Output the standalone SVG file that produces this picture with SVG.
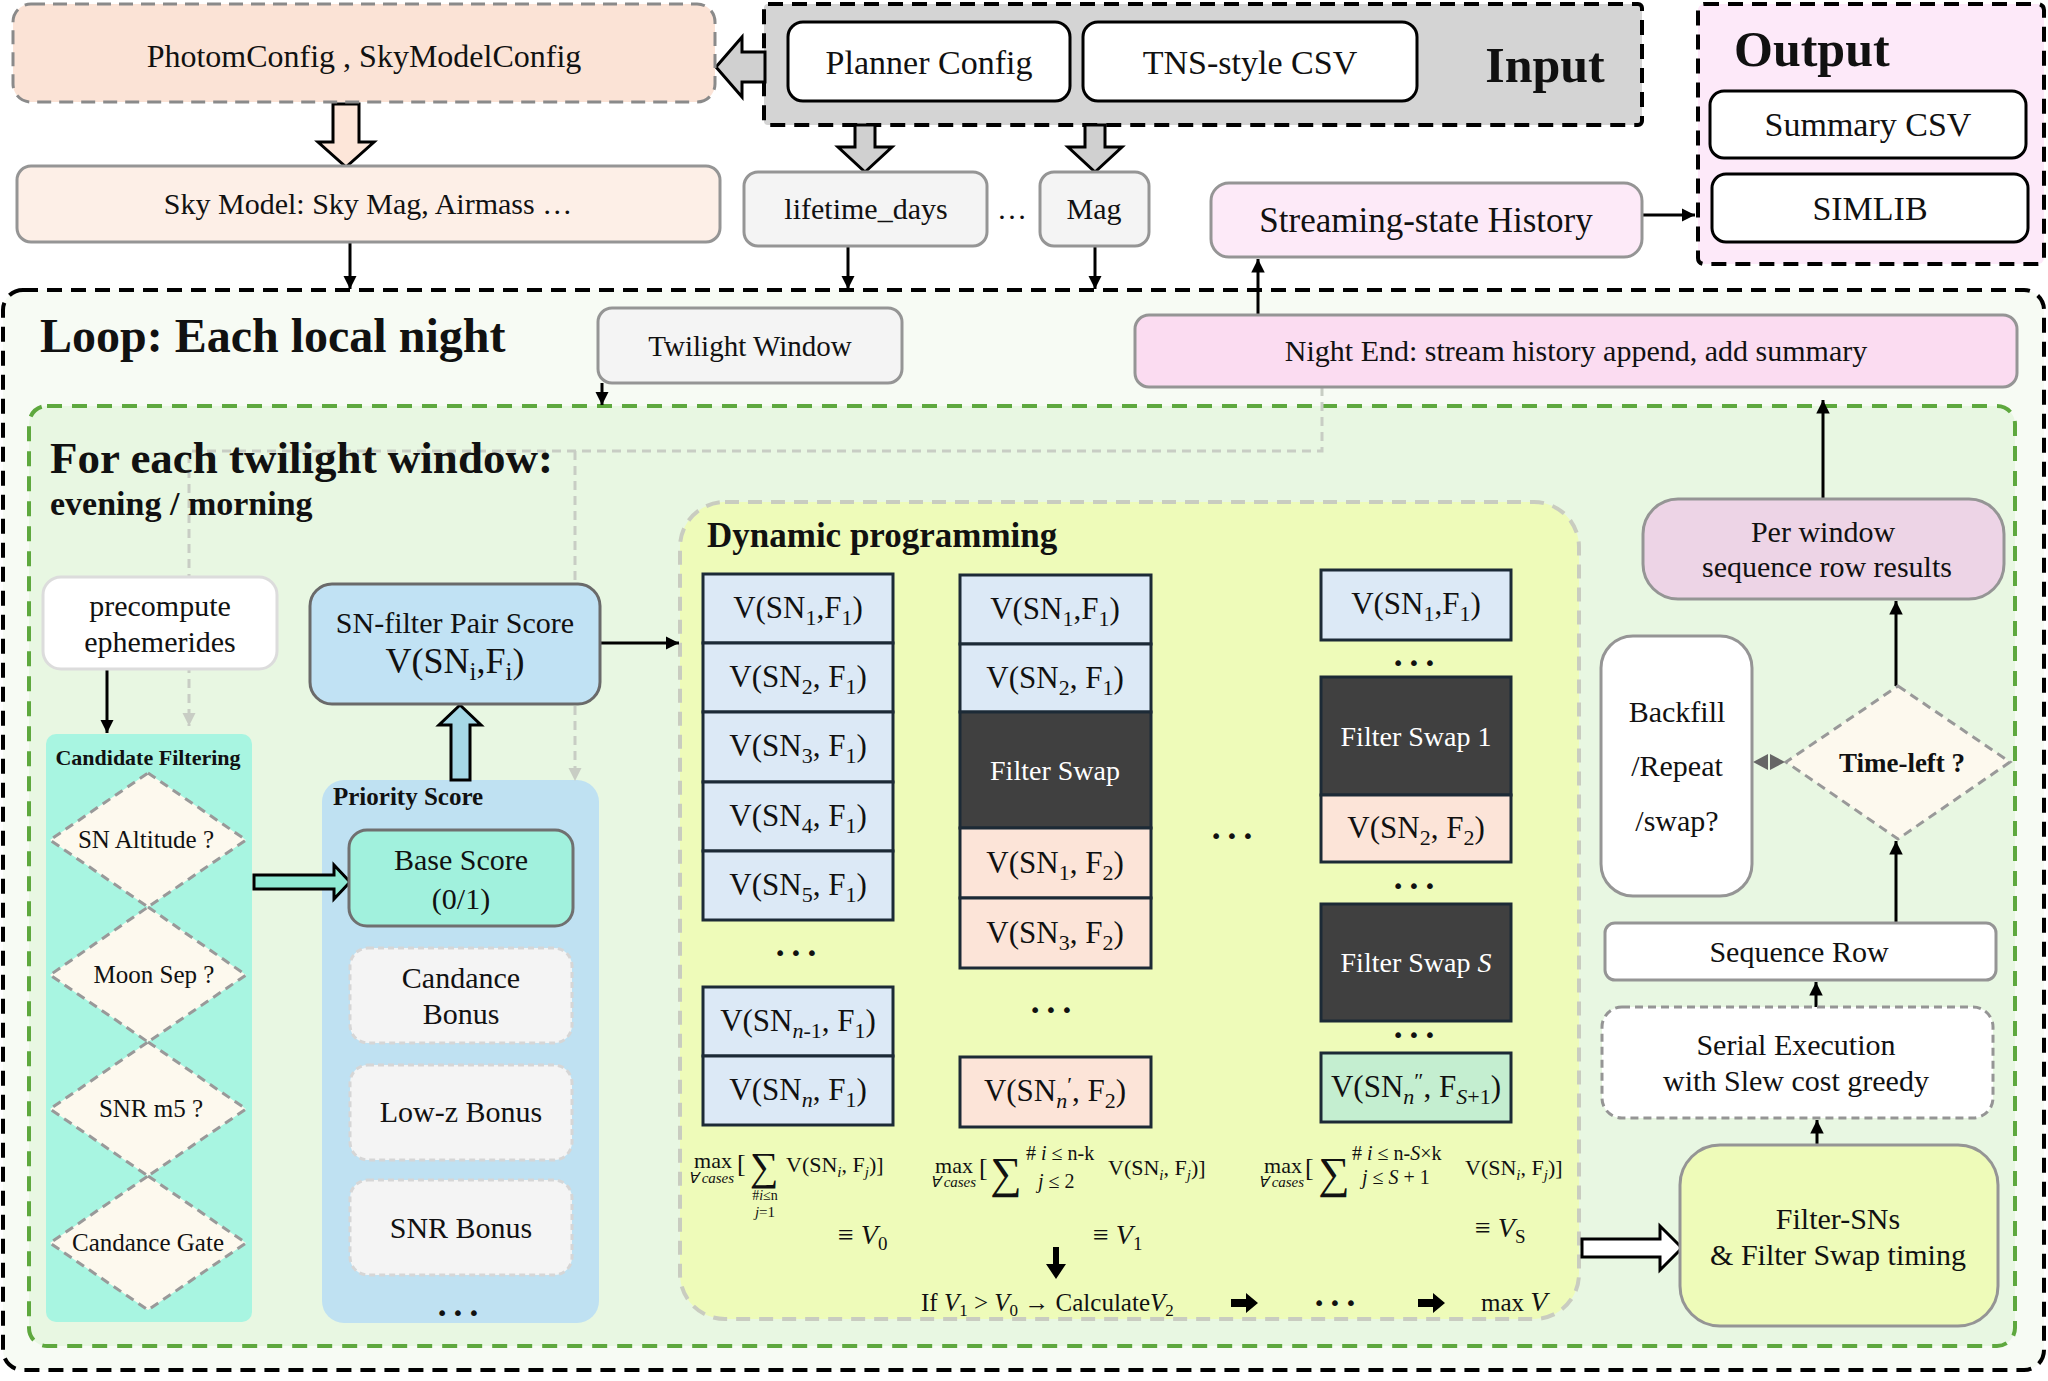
<svg xmlns="http://www.w3.org/2000/svg" width="2048" height="1381" viewBox="0 0 2048 1381">
<defs>
<style>
text{font-family:"Liberation Serif","Times New Roman",serif;fill:#111}
.m{text-anchor:middle}
.b{font-weight:bold}
.i{font-style:italic}
.f30{font-size:30px}
.f34{font-size:34px}
.cell{font-size:31px;text-anchor:middle}
.s{font-size:22px}
.sw{font-size:28px;text-anchor:middle;fill:#fff}
.fm{font-size:22px}
.ln{stroke:#000;stroke-width:3;fill:none}
.blue{fill:#dce9f6;stroke:#1c2a36;stroke-width:3}
.peach{fill:#fce4d8;stroke:#1c2a36;stroke-width:3}
.dark{fill:#404040;stroke:#1c2a36;stroke-width:3}
.green{fill:#c4eed0;stroke:#1c2a36;stroke-width:3}
.gbox{stroke:#959595;stroke-width:3}
.dia{fill:#fdf9ee;stroke:#999;stroke-width:3;stroke-dasharray:9 6}
.dots{font-family:"DejaVu Sans",sans-serif;font-size:20px;text-anchor:middle;letter-spacing:4px}
</style>
<marker id="ah" viewBox="0 0 10 10" refX="10" refY="5" markerWidth="4.5" markerHeight="4.5" orient="auto"><path d="M0,0 L10,5 L0,10 z" fill="#000"/></marker>
<marker id="ahg" viewBox="0 0 10 10" refX="10" refY="5" markerWidth="4.5" markerHeight="4.5" orient="auto"><path d="M0,0 L10,5 L0,10 z" fill="#c8cdc4"/></marker>
</defs>
<rect width="2048" height="1381" fill="#ffffff"/>

<!-- containers -->
<g id="loop">
<rect x="3" y="290" width="2041" height="1080" rx="20" fill="#f7fbf4" stroke="#000" stroke-width="4" stroke-dasharray="15 9"/>
<text x="40" y="352" class="b" font-size="48">Loop: Each local night</text>
</g>
<g id="twilight-loop">
<rect x="29" y="406" width="1986" height="940" rx="18" fill="#e8f7e2" stroke="#5ea83e" stroke-width="4" stroke-dasharray="15 10"/>
</g>
<g id="input">
<rect x="764" y="4" width="878" height="121" rx="4" fill="#d4d4d4" stroke="#000" stroke-width="4" stroke-dasharray="15 9"/>
<text x="1545" y="82" class="m b" font-size="50">Input</text>
</g>
<g id="output">
<rect x="1698" y="4" width="346" height="260" rx="6" fill="#fde9f9" stroke="#000" stroke-width="4" stroke-dasharray="15 9"/>
<text x="1734" y="66" class="b" font-size="50">Output</text>
</g>
<g id="dp">
<rect x="680" y="502" width="899" height="817" rx="45" fill="#eefbb9" stroke="#c9ccc0" stroke-width="4" stroke-dasharray="14 9"/>
<text x="707" y="547" class="b" font-size="35">Dynamic programming</text>
</g>
<g id="candidate-filtering">
<rect x="46" y="734" width="206" height="588" rx="10" fill="#a8f5e1"/>
<text x="148" y="765" class="m b" font-size="22">Candidate Filtering</text>
</g>
<g id="priority-score">
<rect x="322" y="780" width="277" height="543" rx="22" fill="#bfe1f2"/>
<text x="333" y="805" class="b" font-size="25">Priority Score</text>
</g>

<!-- connectors -->
<g id="connectors">
<path d="M1322,387 V451 H189 V726" fill="none" stroke="#c8cdc4" stroke-width="3" stroke-dasharray="9 6" marker-end="url(#ahg)"/>
<path d="M575,451 V781" fill="none" stroke="#c8cdc4" stroke-width="3" stroke-dasharray="9 6" marker-end="url(#ahg)"/>
<polygon points="765,52 742,52 742,37 716,67 742,97 742,82 765,82" fill="#d0d0d0" stroke="#000" stroke-width="3"/>
<polygon points="333,104 359,104 359,142 374,142 346,167 318,142 333,142" fill="#fde6d9" stroke="#000" stroke-width="3"/>
<polygon points="855,125 875,125 875,147 892,147 865,172 838,147 855,147" fill="#d0d0d0" stroke="#000" stroke-width="3"/>
<polygon points="1085,125 1105,125 1105,147 1122,147 1095,172 1068,147 1085,147" fill="#d0d0d0" stroke="#000" stroke-width="3"/>
<polygon points="254,875 334,875 334,865 350,882 334,899 334,889 254,889" fill="#8fe9d3" stroke="#000" stroke-width="3"/>
<polygon points="451,780 451,725 439,725 460,705 481,725 470,725 470,780" fill="#a6d8e6" stroke="#000" stroke-width="3"/>
<polygon points="1582,1239 1660,1239 1660,1226 1682,1248 1660,1270 1660,1257 1582,1257" fill="#fff" stroke="#000" stroke-width="3"/>
<line x1="350" y1="242" x2="350" y2="289" class="ln" marker-end="url(#ah)"/>
<line x1="848" y1="246" x2="848" y2="289" class="ln" marker-end="url(#ah)"/>
<line x1="1095" y1="246" x2="1095" y2="289" class="ln" marker-end="url(#ah)"/>
<line x1="1258" y1="315" x2="1258" y2="259" class="ln" marker-end="url(#ah)"/>
<line x1="1642" y1="215" x2="1695" y2="215" class="ln" marker-end="url(#ah)"/>
<line x1="602" y1="383" x2="602" y2="405" class="ln" marker-end="url(#ah)"/>
<line x1="1823" y1="499" x2="1823" y2="400" class="ln" marker-end="url(#ah)"/>
<line x1="1896" y1="686" x2="1896" y2="601" class="ln" marker-end="url(#ah)"/>
<line x1="1896" y1="923" x2="1896" y2="841" class="ln" marker-end="url(#ah)"/>
<line x1="1816" y1="1007" x2="1816" y2="982" class="ln" marker-end="url(#ah)"/>
<line x1="1817" y1="1145" x2="1817" y2="1120" class="ln" marker-end="url(#ah)"/>
<line x1="600" y1="643" x2="679" y2="643" class="ln" marker-end="url(#ah)"/>
<line x1="107" y1="669" x2="107" y2="733" class="ln" marker-end="url(#ah)"/>
<polygon points="1753,762 1768,754 1768,770" fill="#666"/>
<polygon points="1785,762 1770,754 1770,770" fill="#666"/>
</g>

<!-- top nodes -->
<g id="photom-config">
<rect x="13" y="4" width="702" height="98" rx="18" fill="#fbe3d6" stroke="#8a8a8a" stroke-width="3" stroke-dasharray="14 8"/>
<text x="364" y="67" class="m" font-size="32">PhotomConfig , SkyModelConfig</text>
</g>
<g id="planner-config">
<rect x="788" y="22" width="282" height="79" rx="15" fill="#fff" stroke="#000" stroke-width="3"/>
<text x="929" y="74" class="m f34">Planner Config</text>
</g>
<g id="tns-csv">
<rect x="1083" y="22" width="334" height="79" rx="15" fill="#fff" stroke="#000" stroke-width="3"/>
<text x="1250" y="74" class="m f34">TNS-style CSV</text>
</g>
<g id="summary-csv">
<rect x="1710" y="91" width="316" height="67" rx="14" fill="#fff" stroke="#000" stroke-width="3"/>
<text x="1868" y="136" class="m f34">Summary CSV</text>
</g>
<g id="simlib">
<rect x="1712" y="174" width="316" height="68" rx="14" fill="#fff" stroke="#000" stroke-width="3"/>
<text x="1870" y="220" class="m f34">SIMLIB</text>
</g>
<g id="sky-model">
<rect x="17" y="166" width="703" height="76" rx="14" fill="#fdefe7" class="gbox"/>
<text x="368" y="214" class="m f30">Sky Model: Sky Mag, Airmass …</text>
</g>
<g id="lifetime-days">
<rect x="744" y="172" width="243" height="74" rx="14" fill="#f4f4f4" class="gbox"/>
<text x="866" y="219" class="m f30">lifetime_days</text>
</g>
<text x="1012" y="219" class="m f30">…</text>
<g id="mag">
<rect x="1040" y="172" width="109" height="74" rx="14" fill="#f4f4f4" class="gbox"/>
<text x="1094" y="219" class="m f30">Mag</text>
</g>
<g id="streaming-history">
<rect x="1211" y="183" width="431" height="74" rx="18" fill="#fdeaf8" class="gbox"/>
<text x="1426" y="232" class="m" font-size="35">Streaming-state History</text>
</g>
<g id="twilight-window">
<rect x="598" y="308" width="304" height="75" rx="14" fill="#f4f4f4" class="gbox"/>
<text x="750" y="356" class="m" font-size="29">Twilight Window</text>
</g>
<g id="night-end">
<rect x="1135" y="315" width="882" height="72" rx="14" fill="#fbdcf1" class="gbox"/>
<text x="1576" y="361" class="m f30">Night End: stream history append, add summary</text>
</g>

<g id="twilight-title">
<text x="50" y="473" class="b" font-size="45">For each twilight window:</text>
<text x="50" y="515" class="b" font-size="34">evening / morning</text>
</g>

<!-- left column -->
<g id="precompute">
<rect x="43" y="577" width="234" height="92" rx="18" fill="#fff" stroke="#dcdcdc" stroke-width="3"/>
<text x="160" y="616" class="m f30">precompute</text>
<text x="160" y="652" class="m f30">ephemerides</text>
</g>
<g id="sn-altitude"><polygon points="148,773 246,840 148,907 50,840" class="dia"/><text x="146" y="848" class="m" font-size="25">SN Altitude ?</text></g>
<g id="moon-sep"><polygon points="148,907 246,975 148,1042 50,975" class="dia"/><text x="154" y="983" class="m" font-size="25">Moon Sep ?</text></g>
<g id="snr-m5"><polygon points="148,1042 246,1109 148,1176 50,1109" class="dia"/><text x="151" y="1117" class="m" font-size="25">SNR m5 ?</text></g>
<g id="candance-gate"><polygon points="148,1176 246,1243 148,1310 50,1243" class="dia"/><text x="148" y="1251" class="m" font-size="25">Candance Gate</text></g>

<g id="sn-filter-pair-score">
<rect x="310" y="584" width="290" height="120" rx="22" fill="#c1e2f4" stroke="#6a6a6a" stroke-width="3"/>
<text x="455" y="633" class="m f30">SN-filter Pair Score</text>
<text x="455" y="673" class="m" font-size="36">V(SN<tspan font-size="25" dy="7">i</tspan><tspan dy="-7">,F</tspan><tspan font-size="25" dy="7">i</tspan><tspan dy="-7">)</tspan></text>
</g>
<g id="base-score">
<rect x="349" y="830" width="224" height="96" rx="18" fill="#a1f1dd" stroke="#707070" stroke-width="3"/>
<text x="461" y="870" class="m f30">Base Score</text>
<text x="461" y="909" class="m f30">(0/1)</text>
</g>
<g id="candance-bonus">
<rect x="350" y="948" width="222" height="95" rx="18" fill="#f4f4f4" stroke="#d6d6d6" stroke-width="3" stroke-dasharray="6 4"/>
<text x="461" y="988" class="m f30">Candance</text>
<text x="461" y="1024" class="m f30">Bonus</text>
</g>
<g id="lowz-bonus">
<rect x="350" y="1065" width="222" height="95" rx="18" fill="#f4f4f4" stroke="#d6d6d6" stroke-width="3" stroke-dasharray="6 4"/>
<text x="461" y="1122" class="m f30">Low-z Bonus</text>
</g>
<g id="snr-bonus">
<rect x="350" y="1180" width="222" height="95" rx="18" fill="#f4f4f4" stroke="#d6d6d6" stroke-width="3" stroke-dasharray="6 4"/>
<text x="461" y="1238" class="m f30">SNR Bonus</text>
</g>
<text x="460" y="1320" class="dots">•••</text>

<!-- DP column 1 -->
<g id="dp-col1">
<rect x="703" y="574" width="190" height="69" class="blue"/>
<rect x="703" y="643" width="190" height="69" class="blue"/>
<rect x="703" y="712" width="190" height="70" class="blue"/>
<rect x="703" y="782" width="190" height="69" class="blue"/>
<rect x="703" y="851" width="190" height="69" class="blue"/>
<text x="798" y="618" class="cell">V(SN<tspan class="s" dy="7">1</tspan><tspan dy="-7">,F</tspan><tspan class="s" dy="7">1</tspan><tspan dy="-7">)</tspan></text>
<text x="798" y="687" class="cell">V(SN<tspan class="s" dy="7">2</tspan><tspan dy="-7">, F</tspan><tspan class="s" dy="7">1</tspan><tspan dy="-7">)</tspan></text>
<text x="798" y="756" class="cell">V(SN<tspan class="s" dy="7">3</tspan><tspan dy="-7">, F</tspan><tspan class="s" dy="7">1</tspan><tspan dy="-7">)</tspan></text>
<text x="798" y="826" class="cell">V(SN<tspan class="s" dy="7">4</tspan><tspan dy="-7">, F</tspan><tspan class="s" dy="7">1</tspan><tspan dy="-7">)</tspan></text>
<text x="798" y="895" class="cell">V(SN<tspan class="s" dy="7">5</tspan><tspan dy="-7">, F</tspan><tspan class="s" dy="7">1</tspan><tspan dy="-7">)</tspan></text>
<text x="798" y="960" class="dots">•••</text>
<rect x="703" y="987" width="190" height="69" class="blue"/>
<rect x="703" y="1056" width="190" height="69" class="blue"/>
<text x="798" y="1031" class="cell">V(SN<tspan class="s i" dy="7">n</tspan><tspan class="s" dy="0">-1</tspan><tspan dy="-7">, F</tspan><tspan class="s" dy="7">1</tspan><tspan dy="-7">)</tspan></text>
<text x="798" y="1100" class="cell">V(SN<tspan class="s i" dy="7">n</tspan><tspan dy="-7">, F</tspan><tspan class="s" dy="7">1</tspan><tspan dy="-7">)</tspan></text>
</g>

<!-- DP column 2 -->
<g id="dp-col2">
<rect x="960" y="575" width="191" height="69" class="blue"/>
<rect x="960" y="644" width="191" height="68" class="blue"/>
<rect x="960" y="712" width="191" height="116" class="dark"/>
<rect x="960" y="828" width="191" height="70" class="peach"/>
<rect x="960" y="898" width="191" height="70" class="peach"/>
<text x="1055" y="619" class="cell">V(SN<tspan class="s" dy="7">1</tspan><tspan dy="-7">,F</tspan><tspan class="s" dy="7">1</tspan><tspan dy="-7">)</tspan></text>
<text x="1055" y="688" class="cell">V(SN<tspan class="s" dy="7">2</tspan><tspan dy="-7">, F</tspan><tspan class="s" dy="7">1</tspan><tspan dy="-7">)</tspan></text>
<text x="1055" y="780" class="sw">Filter Swap</text>
<text x="1055" y="873" class="cell">V(SN<tspan class="s" dy="7">1</tspan><tspan dy="-7">, F</tspan><tspan class="s" dy="7">2</tspan><tspan dy="-7">)</tspan></text>
<text x="1055" y="943" class="cell">V(SN<tspan class="s" dy="7">3</tspan><tspan dy="-7">, F</tspan><tspan class="s" dy="7">2</tspan><tspan dy="-7">)</tspan></text>
<text x="1053" y="1017" class="dots">•••</text>
<rect x="960" y="1057" width="191" height="70" class="peach"/>
<text x="1055" y="1101" class="cell">V(SN<tspan class="s i" dy="7">n</tspan><tspan class="s" dy="-16">′</tspan><tspan dy="9">, F</tspan><tspan class="s" dy="7">2</tspan><tspan dy="-7">)</tspan></text>
</g>

<text x="1234" y="843" class="dots">•••</text>

<!-- DP column 3 -->
<g id="dp-col3">
<rect x="1321" y="570" width="190" height="70" class="blue"/>
<text x="1416" y="614" class="cell">V(SN<tspan class="s" dy="7">1</tspan><tspan dy="-7">,F</tspan><tspan class="s" dy="7">1</tspan><tspan dy="-7">)</tspan></text>
<text x="1416" y="670" class="dots">•••</text>
<rect x="1321" y="677" width="190" height="118" class="dark"/>
<text x="1416" y="746" class="sw">Filter Swap 1</text>
<rect x="1321" y="795" width="190" height="67" class="peach"/>
<text x="1416" y="838" class="cell">V(SN<tspan class="s" dy="7">2</tspan><tspan dy="-7">, F</tspan><tspan class="s" dy="7">2</tspan><tspan dy="-7">)</tspan></text>
<text x="1416" y="893" class="dots">•••</text>
<rect x="1321" y="904" width="190" height="117" class="dark"/>
<text x="1416" y="972" class="sw">Filter Swap <tspan class="i">S</tspan></text>
<text x="1416" y="1042" class="dots">•••</text>
<rect x="1321" y="1053" width="190" height="69" class="green"/>
<text x="1416" y="1097" class="cell" font-size="29">V(SN<tspan class="s i" dy="7">n</tspan><tspan class="s" dy="-16">″</tspan><tspan dy="9">, F</tspan><tspan class="s i" dy="7">S</tspan><tspan class="s">+1</tspan><tspan dy="-7">)</tspan></text>
</g>

<!-- DP formulas -->
<g id="dp-formulas">
<text x="713" y="1168" class="m fm">max</text>
<text x="711" y="1183" class="m i" font-size="15">∀ cases</text>
<text x="737" y="1172" font-size="26">[</text>
<text x="764" y="1180" class="m" font-size="40">∑</text>
<text x="786" y="1172" class="fm">V(SN<tspan font-size="15" class="i" dy="5">i</tspan><tspan dy="-5">, F</tspan><tspan font-size="15" class="i" dy="5">j</tspan><tspan dy="-5">)]</tspan></text>
<text x="765" y="1200" class="m" font-size="14">#<tspan class="i">i</tspan>≤n</text>
<text x="765" y="1217" class="m i" font-size="15">j<tspan font-style="normal">=1</tspan></text>
<text x="838" y="1244" font-size="28">≡ <tspan class="i">V</tspan><tspan font-size="19" dy="6">0</tspan></text>

<text x="954" y="1173" class="m fm">max</text>
<text x="953" y="1187" class="m i" font-size="15">∀ cases</text>
<text x="979" y="1176" font-size="26">[</text>
<text x="1006" y="1188" class="m" font-size="44">∑</text>
<text x="1026" y="1160" font-size="20"># <tspan class="i">i</tspan> ≤ n-k</text>
<text x="1038" y="1188" font-size="20"><tspan class="i">j</tspan> ≤ 2</text>
<text x="1108" y="1175" class="fm">V(SN<tspan font-size="15" class="i" dy="5">i</tspan><tspan dy="-5">, F</tspan><tspan font-size="15" class="i" dy="5">j</tspan><tspan dy="-5">)]</tspan></text>
<text x="1093" y="1244" font-size="28">≡ <tspan class="i">V</tspan><tspan font-size="19" dy="6">1</tspan></text>

<text x="1283" y="1173" class="m fm">max</text>
<text x="1281" y="1187" class="m i" font-size="15">∀ cases</text>
<text x="1305" y="1176" font-size="26">[</text>
<text x="1334" y="1188" class="m" font-size="44">∑</text>
<text x="1352" y="1160" font-size="20"># <tspan class="i">i</tspan> ≤ n-<tspan class="i">S</tspan>×k</text>
<text x="1362" y="1184" font-size="20"><tspan class="i">j</tspan> ≤ <tspan class="i">S</tspan> + 1</text>
<text x="1465" y="1175" class="fm">V(SN<tspan font-size="15" class="i" dy="5">i</tspan><tspan dy="-5">, F</tspan><tspan font-size="15" class="i" dy="5">j</tspan><tspan dy="-5">)]</tspan></text>
<text x="1475" y="1237" font-size="28">≡ <tspan class="i">V</tspan><tspan font-size="19" dy="6">S</tspan></text>

<polygon points="1053,1247 1059,1247 1059,1264 1066,1264 1056,1279 1046,1264 1053,1264" fill="#000"/>
<text x="921" y="1311" font-size="25">If <tspan class="i">V</tspan><tspan font-size="17" dy="5">1</tspan><tspan dy="-5"> &gt; </tspan><tspan class="i">V</tspan><tspan font-size="17" dy="5">0</tspan><tspan dy="-5"> → Calculate</tspan><tspan class="i">V</tspan><tspan font-size="17" dy="5">2</tspan></text>
<polygon points="1231,1299 1246,1299 1246,1293 1258,1303 1246,1313 1246,1307 1231,1307" fill="#000"/>
<text x="1337" y="1310" class="dots">•••</text>
<polygon points="1418,1299 1433,1299 1433,1293 1445,1303 1433,1313 1433,1307 1418,1307" fill="#000"/>
<text x="1481" y="1311" font-size="25">max <tspan class="i" font-size="28">V</tspan></text>
</g>

<!-- right column -->
<g id="per-window">
<rect x="1643" y="499" width="361" height="100" rx="35" fill="#edd4e6" class="gbox"/>
<text x="1823" y="542" class="m f30">Per window</text>
<text x="1827" y="577" class="m f30">sequence row results</text>
</g>
<g id="backfill">
<rect x="1601" y="636" width="151" height="260" rx="32" fill="#fff" class="gbox"/>
<text x="1677" y="722" class="m f30">Backfill</text>
<text x="1677" y="776" class="m f30">/Repeat</text>
<text x="1677" y="831" class="m f30">/swap?</text>
</g>
<g id="time-left">
<polygon points="1898,686 2010,762 1898,839 1786,762" class="dia"/>
<text x="1902" y="772" class="m b" font-size="27">Time-left ?</text>
</g>
<g id="sequence-row">
<rect x="1605" y="923" width="391" height="57" rx="10" fill="#fff" class="gbox"/>
<text x="1799" y="962" class="m f30">Sequence Row</text>
</g>
<g id="serial-execution">
<rect x="1602" y="1007" width="391" height="111" rx="20" fill="#fff" stroke="#959595" stroke-width="3" stroke-dasharray="8 5"/>
<text x="1796" y="1055" class="m f30">Serial Execution</text>
<text x="1796" y="1091" class="m f30">with Slew cost greedy</text>
</g>
<g id="filter-sns">
<rect x="1680" y="1145" width="318" height="181" rx="40" fill="#eefbb9" class="gbox"/>
<text x="1838" y="1229" class="m f30">Filter-SNs</text>
<text x="1838" y="1265" class="m f30">&amp; Filter Swap timing</text>
</g>
</svg>
